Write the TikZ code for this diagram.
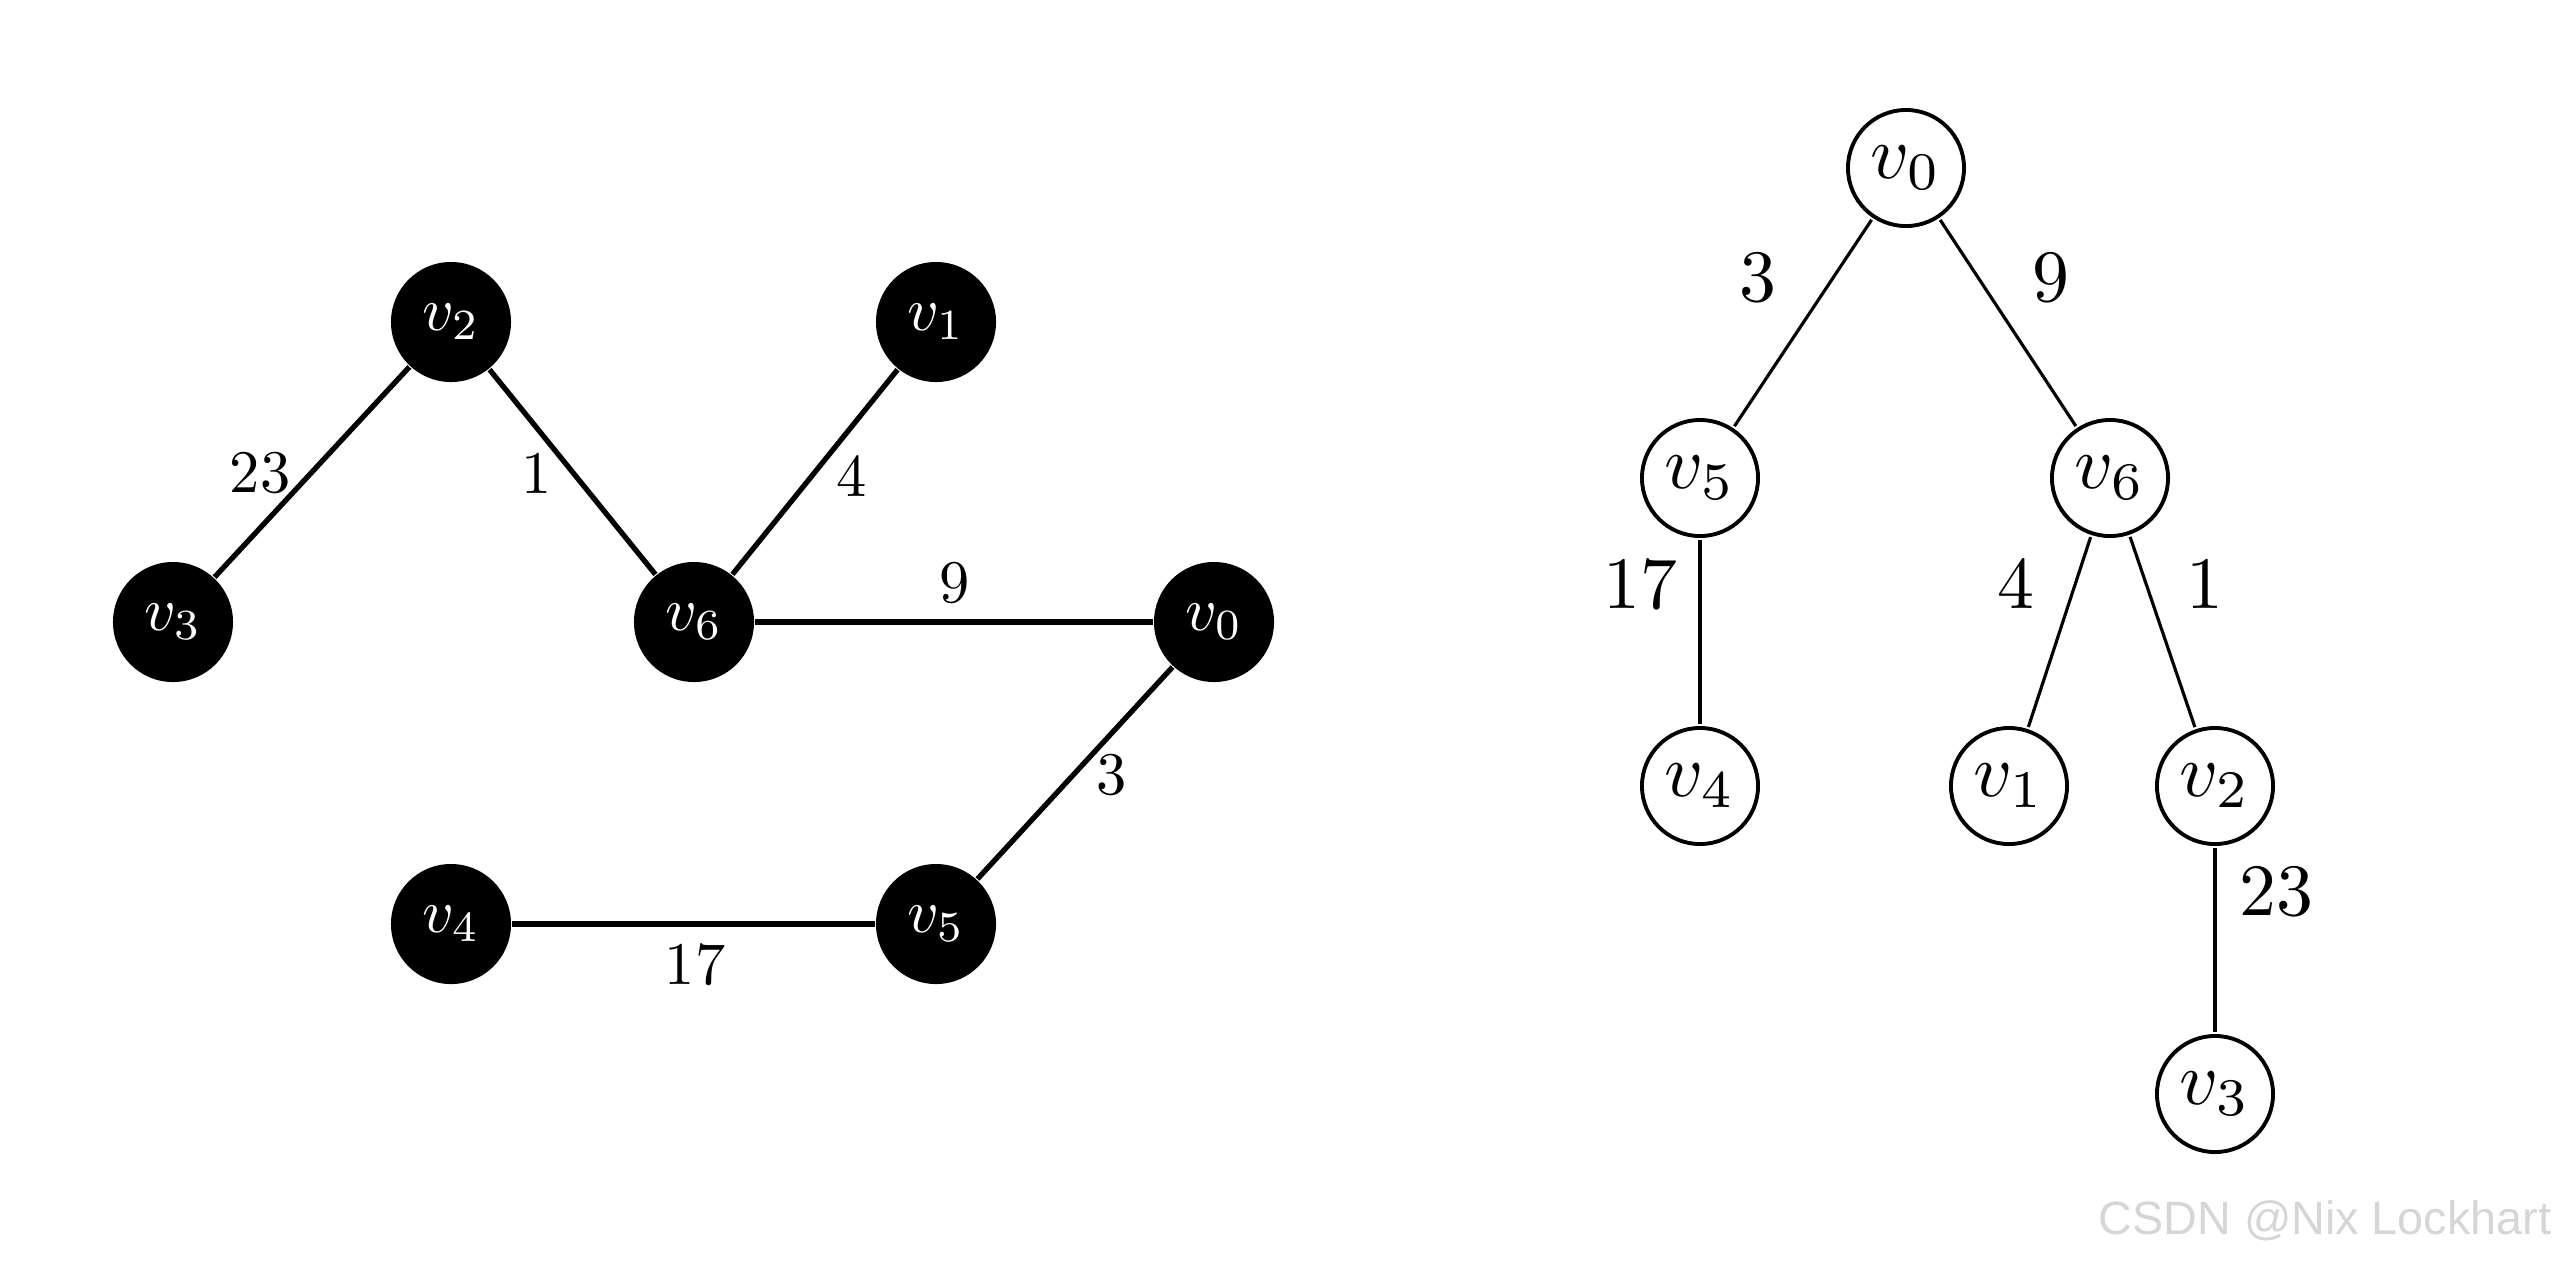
\documentclass[tikz,border=0pt]{standalone}
\usepackage{fontspec}
\newfontfamily\marksans{Liberation Sans}
\usetikzlibrary{positioning}

\begin{document}
\begin{tikzpicture}[
    blackv/.style={circle, fill=black, text=white, minimum size=0.686cm, inner sep=0pt, scale=1.75},
    whitev/.style={circle, draw, line width=1.1pt, minimum size=0.54cm, inner sep=0pt, scale=2.15},
    gw/.style={inner sep=0pt, scale=1.72},
    tw/.style={inner sep=0pt, scale=2.1},
    gedge/.style={line width=1.5pt},
    tedge/.style={line width=0.9pt}]
    \useasboundingbox (0,0) rectangle (25.6,-12.66);

    % Graph
    \node[blackv] (g2) at (4.51,-3.22) {$v_2$};
    \node[blackv] (g1) at (9.36,-3.22) {$v_1$};
    \node[blackv] (g3) at (1.73,-6.22) {$v_3$};
    \node[blackv] (g6) at (6.94,-6.22) {$v_6$};
    \node[blackv] (g0) at (12.14,-6.22) {$v_0$};
    \node[blackv] (g4) at (4.51,-9.24) {$v_4$};
    \node[blackv] (g5) at (9.36,-9.24) {$v_5$};

    \draw[gedge] (g2) -- (g3);
    \draw[gedge] (g2) -- (g6);
    \draw[gedge] (g1) -- (g6);
    \draw[gedge] (g6) -- (g0);
    \draw[gedge] (g0) -- (g5);
    \draw[gedge] (g4) -- (g5);

    \node[gw] (gw23) at (2.60,-4.73) {$23$};
    \node[gw] (gw1) at (5.37,-4.74) {$1$};
    \node[gw] (gw4) at (8.52,-4.77) {$4$};
    \node[gw] (gw9) at (9.55,-5.83) {$9$};
    \node[gw] (gw3) at (11.12,-7.75) {$3$};
    \node[gw] (gw17) at (6.95,-9.65) {$17$};

    % Tree
    \node[whitev] (t0) at (19.06,-1.68) {$v_0$};
    \node[whitev] (t5) at (17.00,-4.78) {$v_5$};
    \node[whitev] (t6) at (21.10,-4.78) {$v_6$};
    \node[whitev] (t4) at (17.00,-7.86) {$v_4$};
    \node[whitev] (t1) at (20.09,-7.86) {$v_1$};
    \node[whitev] (t2) at (22.15,-7.86) {$v_2$};
    \node[whitev] (t3) at (22.15,-10.94) {$v_3$};

    \draw[tedge] (t0) -- (t5);
    \draw[tedge] (t0) -- (t6);
    \draw[tedge] (t5) -- (t4);
    \draw[tedge] (t6) -- (t1);
    \draw[tedge] (t6) -- (t2);
    \draw[tedge] (t2) -- (t3);

    \node[tw] (tw3) at (17.58,-2.78) {$3$};
    \node[tw] (tw9) at (20.51,-2.78) {$9$};
    \node[tw] (tw17) at (16.40,-5.85) {$17$};
    \node[tw] (tw4) at (20.16,-5.85) {$4$};
    \node[tw] (tw1) at (22.05,-5.85) {$1$};
    \node[tw] (tw23) at (22.76,-8.92) {$23$};

    % Watermark
    \node[anchor=east, inner sep=0pt, text=black!16, font=\marksans\fontsize{13.3}{16}\selectfont] (mark) at (25.52,-12.21) {CSDN @Nix Lockhart};
\end{tikzpicture}
\end{document}
